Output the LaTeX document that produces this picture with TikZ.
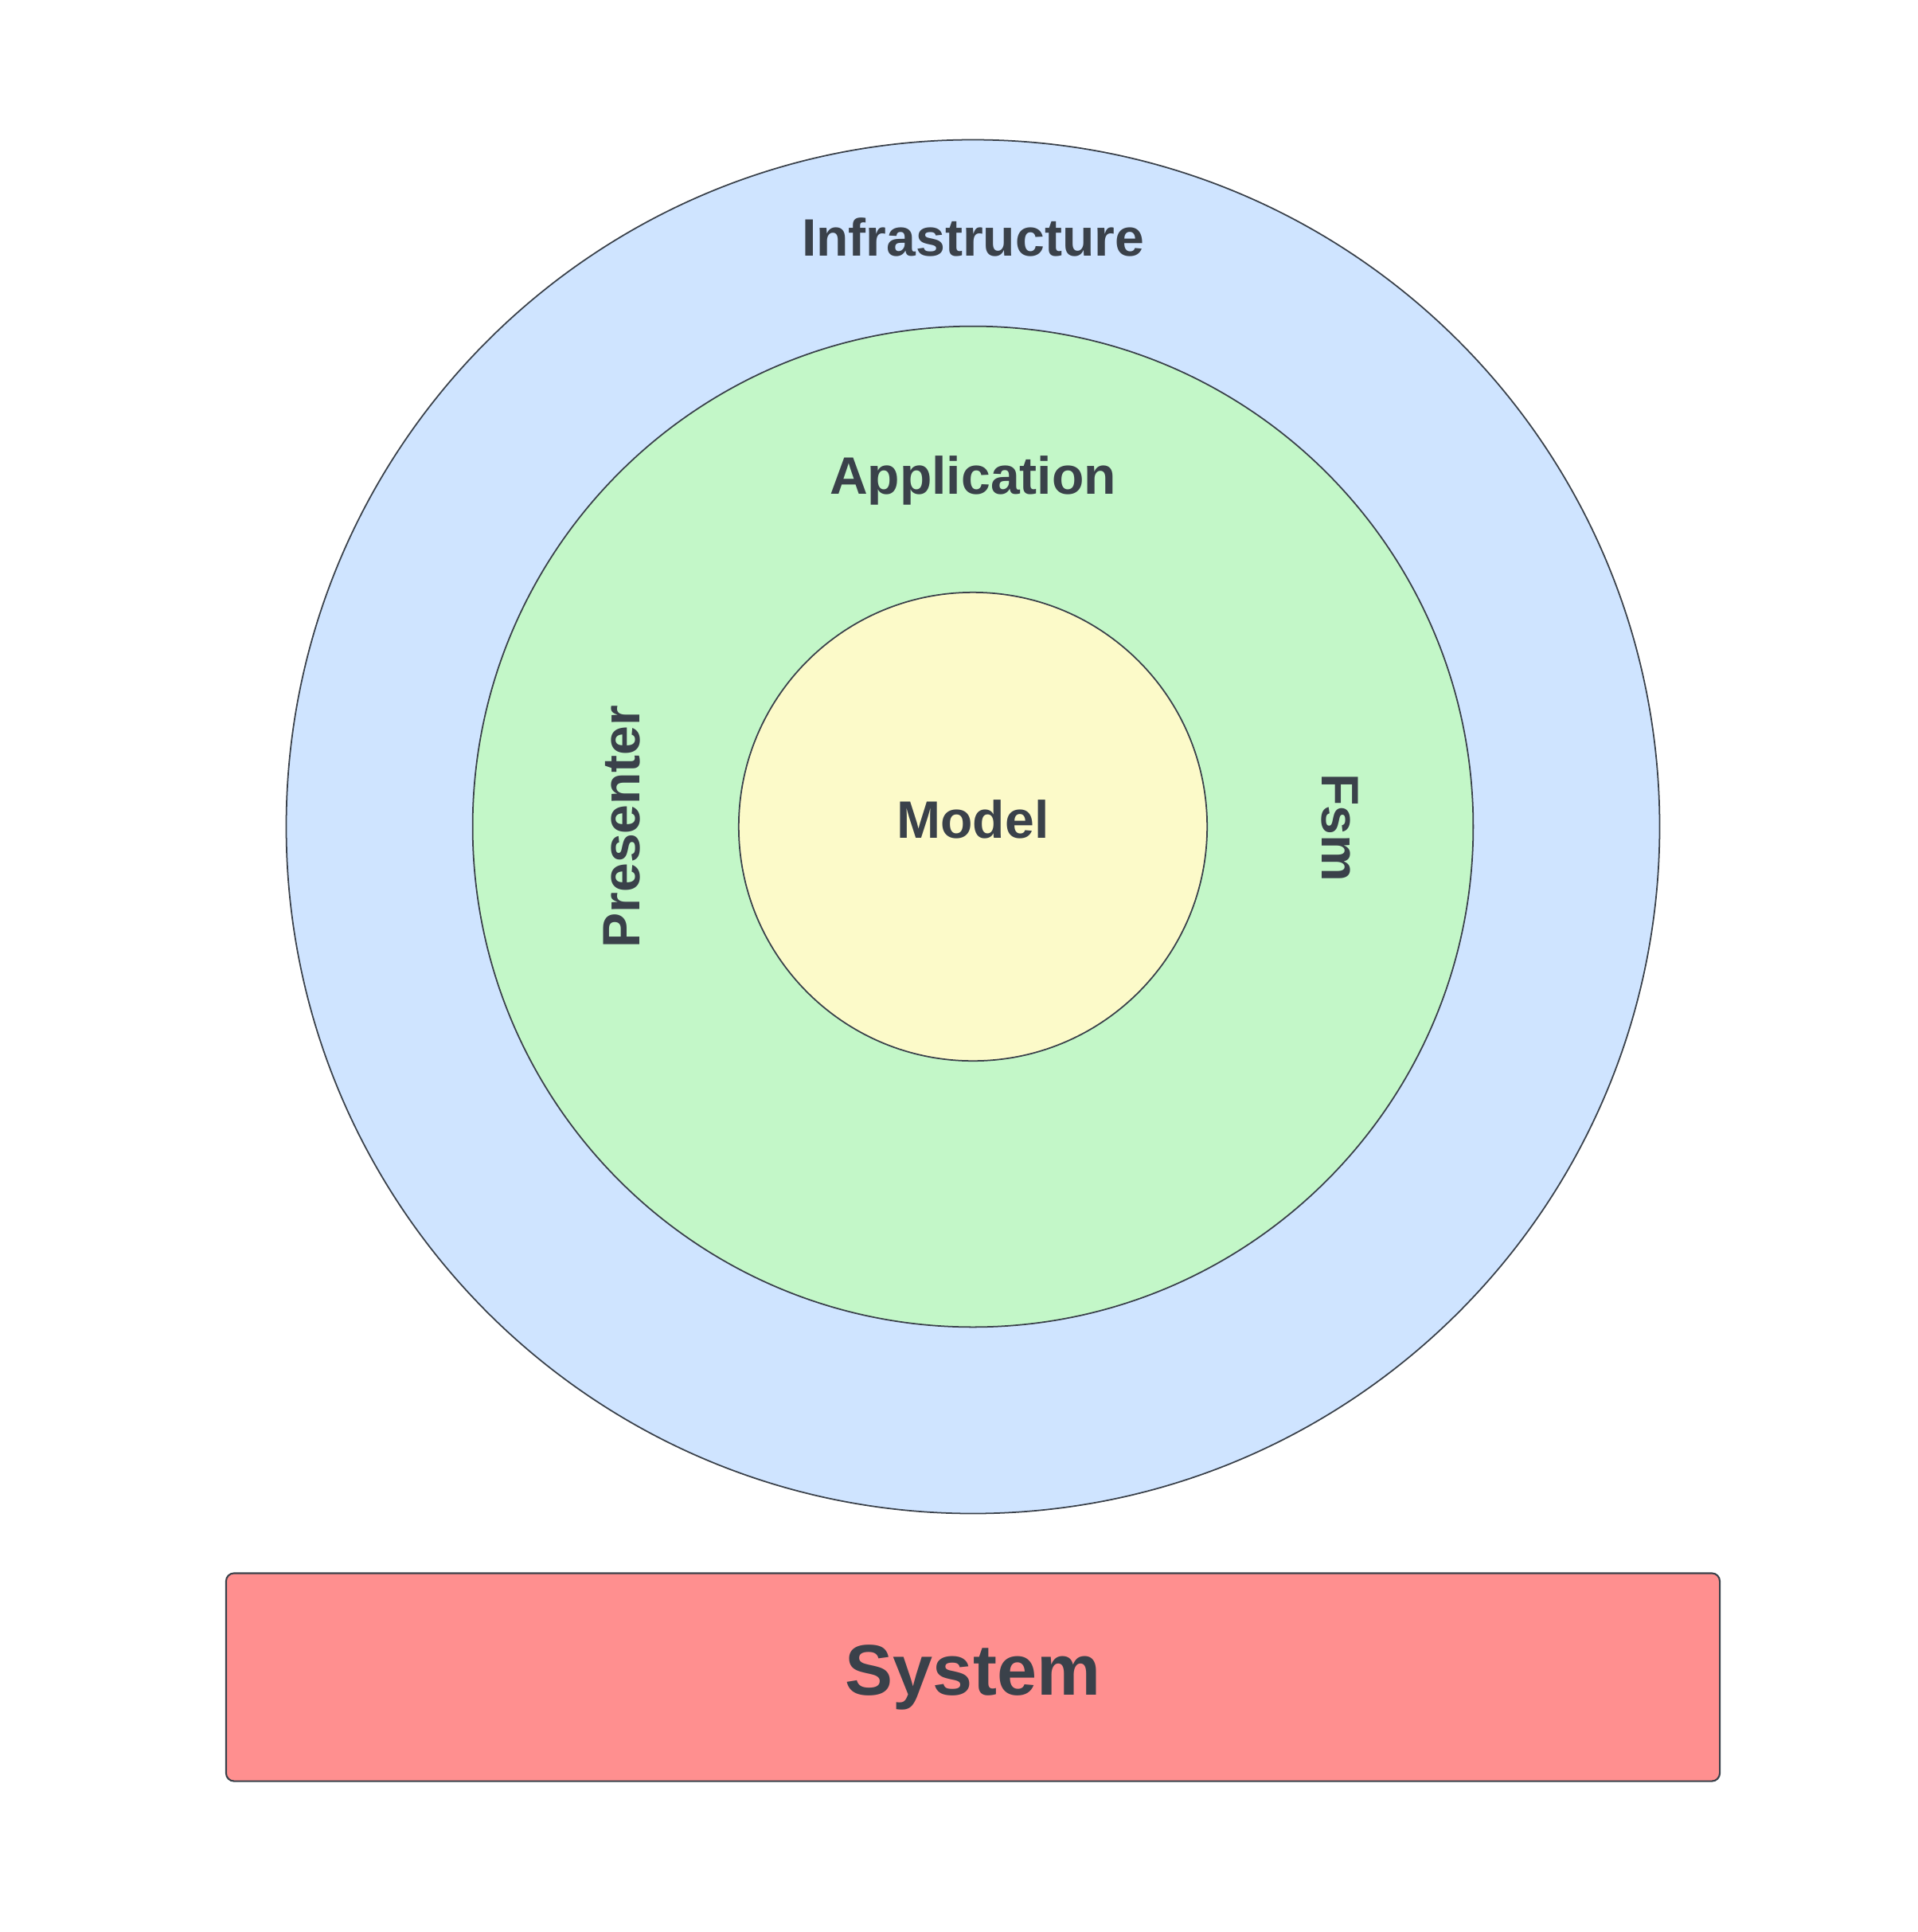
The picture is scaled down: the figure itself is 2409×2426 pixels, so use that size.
\documentclass[tikz,border=0pt]{standalone}
\usepackage{fontspec}
\setmainfont{Liberation Sans}
\usepackage{tikz}
\usetikzlibrary{positioning}

\definecolor{ink}{HTML}{3A414A}
\definecolor{infrafill}{HTML}{CFE4FF}
\definecolor{appfill}{HTML}{C3F7C8}
\definecolor{modelfill}{HTML}{FCFAC9}
\definecolor{sysfill}{HTML}{FF8F8F}

\begin{document}
\begin{tikzpicture}[
  x=0.01cm,y=-0.01cm,
  ring/.style={draw=ink,circle,line width=0.5pt,inner sep=0pt},
  lbl/.style={text=ink,font=\bfseries\fontsize{18.8}{22}\selectfont,anchor=base,inner sep=0pt},
  sysbox/.style={draw=ink,fill=sysfill,rounded corners=0.1cm,line width=0.6pt,text=ink,
    font=\bfseries\fontsize{25.6}{30}\selectfont,minimum width=18.75cm,minimum height=2.61cm}
]
\useasboundingbox (0,0) rectangle (2409,2426);
% layers
\node[ring,fill=infrafill,minimum size=17.24cm] (infra) at (1222,1038) {};
\node[ring,fill=appfill,minimum size=12.56cm] (app) at (1222,1038) {};
\node[ring,fill=modelfill,minimum size=5.88cm] (model) at (1222,1038) {};
% labels
\node[lbl] (infralbl) at (1222,321) {Infrastructure};
\node[lbl] (applbl) at (1222,620) {Application};
\node[lbl] (modellbl) at (1222,1052) {Model};
\node[lbl,rotate=90] (preslbl) at (803,1038) {Presenter};
\node[lbl,rotate=-90] (fsmlbl) at (1660,1039) {Fsm};
% system
\node[sysbox] (sys) at (1222,2106) {System};
\end{tikzpicture}
\end{document}
